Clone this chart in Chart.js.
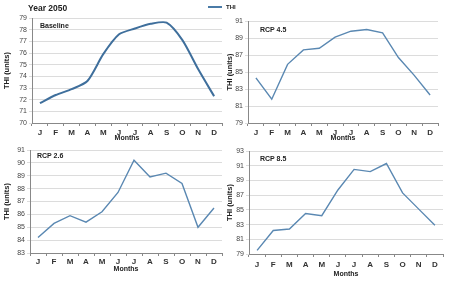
<!DOCTYPE html>
<html>
<head>
<meta charset="utf-8">
<script src="https://cdn.jsdelivr.net/npm/chart.js@4"></script>
<style>
  body { margin: 0; background: #fff; font-family: "Liberation Sans", Arial, sans-serif; }
  #wrap { position: relative; width: 450px; height: 281px; overflow: hidden; }
  canvas { position: absolute; }
  .lbl { position: absolute; font-weight: bold; color: #222; white-space: nowrap; line-height: 1; }
</style>
</head>
<body>
<div id="wrap">
  <canvas id="c1" width="225" height="142" style="left:0;top:0"></canvas>
  <canvas id="c2" width="225" height="142" style="left:225px;top:0"></canvas>
  <canvas id="c3" width="225" height="131" style="left:0;top:142px"></canvas>
  <canvas id="c4" width="225" height="136" style="left:225px;top:142px"></canvas>

  <div class="lbl" style="left:28px;top:4px;font-size:8.5px">Year 2050</div>
  <div style="position:absolute;left:208px;top:6px;width:14px;height:2px;background:#4a7ba7"></div>
  <div class="lbl" style="left:226px;top:4px;font-size:6px">THI</div>

  <div class="lbl" style="left:40px;top:22px;font-size:7px">Baseline</div>
  <div class="lbl" style="left:260px;top:26px;font-size:7px">RCP 4.5</div>
  <div class="lbl" style="left:37px;top:152px;font-size:7px">RCP 2.6</div>
  <div class="lbl" style="left:260px;top:155px;font-size:7px">RCP 8.5</div>
</div>
<script>
// months on the x axis
const months = ['J', 'F', 'M', 'A', 'M', 'J', 'J', 'A', 'S', 'O', 'N', 'D'];

// THI (units)
const baseline = [71.7, 72.4, 72.9, 73.6, 75.9, 77.6, 78.1, 78.5, 78.6, 77.1, 74.6, 72.3];
const rcp45 = [84.3, 81.8, 85.9, 87.6, 87.8, 89.1, 89.8, 90.0, 89.6, 86.7, 84.6, 82.3];
const rcp26 = [84.2, 85.3, 85.9, 85.4, 86.2, 87.7, 90.2, 88.9, 89.2, 88.4, 85.0, 86.5];
const rcp85 = [79.5, 82.2, 82.4, 84.5, 84.2, 87.7, 90.5, 90.2, 91.3, 87.3, 85.1, 82.9];

function panel(id, values, yMin, yMax, step, g, smooth) {
  new Chart(document.getElementById(id), {
    type: 'line',
    data: {
      labels: months,
      datasets: [{
        label: 'THI',
        data: values,
        borderColor: smooth ? '#3f6f9c' : '#5a88b2',
        borderWidth: smooth ? 2 : 1.4,
        pointRadius: 0,
        tension: smooth ? 0.25 : 0
      }]
    },
    options: {
      responsive: false,
      animation: false,
      layout: { padding: { top: g.top, right: g.right, left: 0, bottom: 0 } },
      plugins: { legend: { display: false }, tooltip: { enabled: false } },
      scales: {
        x: {
          offset: true,
          grid: { offset: true, drawOnChartArea: false, tickLength: 3, color: '#888' },
          border: { color: '#888' },
          ticks: { font: { size: 8, weight: 'bold', family: 'Liberation Sans' }, color: '#333', padding: g.tp, maxRotation: 0, autoSkip: false },
          title: { display: true, text: 'Months', font: { size: 7, weight: 'bold', family: 'Liberation Sans' }, color: '#222', padding: 0 },
          afterFit: s => { s.height = g.xh; }
        },
        y: {
          min: yMin,
          max: yMax,
          ticks: { stepSize: step, font: { size: 7, family: 'Liberation Sans' }, color: '#444', padding: 2 },
          grid: { color: '#dcdcdc', tickLength: 3 },
          border: { color: '#888' },
          title: { display: true, text: 'THI (units)', font: { size: 7.5, weight: 'bold', family: 'Liberation Sans' }, color: '#222', padding: { top: g.yt, bottom: 0 } },
          afterFit: s => { s.width = g.yw; }
        }
      }
    }
  });
}

panel('c1', baseline, 70, 79, 1, { top: 18, right: 3, yw: 32, xh: 19, tp: 2, yt: 2 }, true);
panel('c2', rcp45, 79, 91, 2, { top: 21, right: 12, yw: 23, xh: 19, tp: 2, yt: 0 }, false);
panel('c3', rcp26, 83, 91, 1, { top: 8, right: 3, yw: 30, xh: 20, tp: 1, yt: 2 }, false);
panel('c4', rcp85, 79, 93, 2, { top: 9, right: 7, yw: 24, xh: 24, tp: 3, yt: 0 }, false);
</script>
</body>
</html>
